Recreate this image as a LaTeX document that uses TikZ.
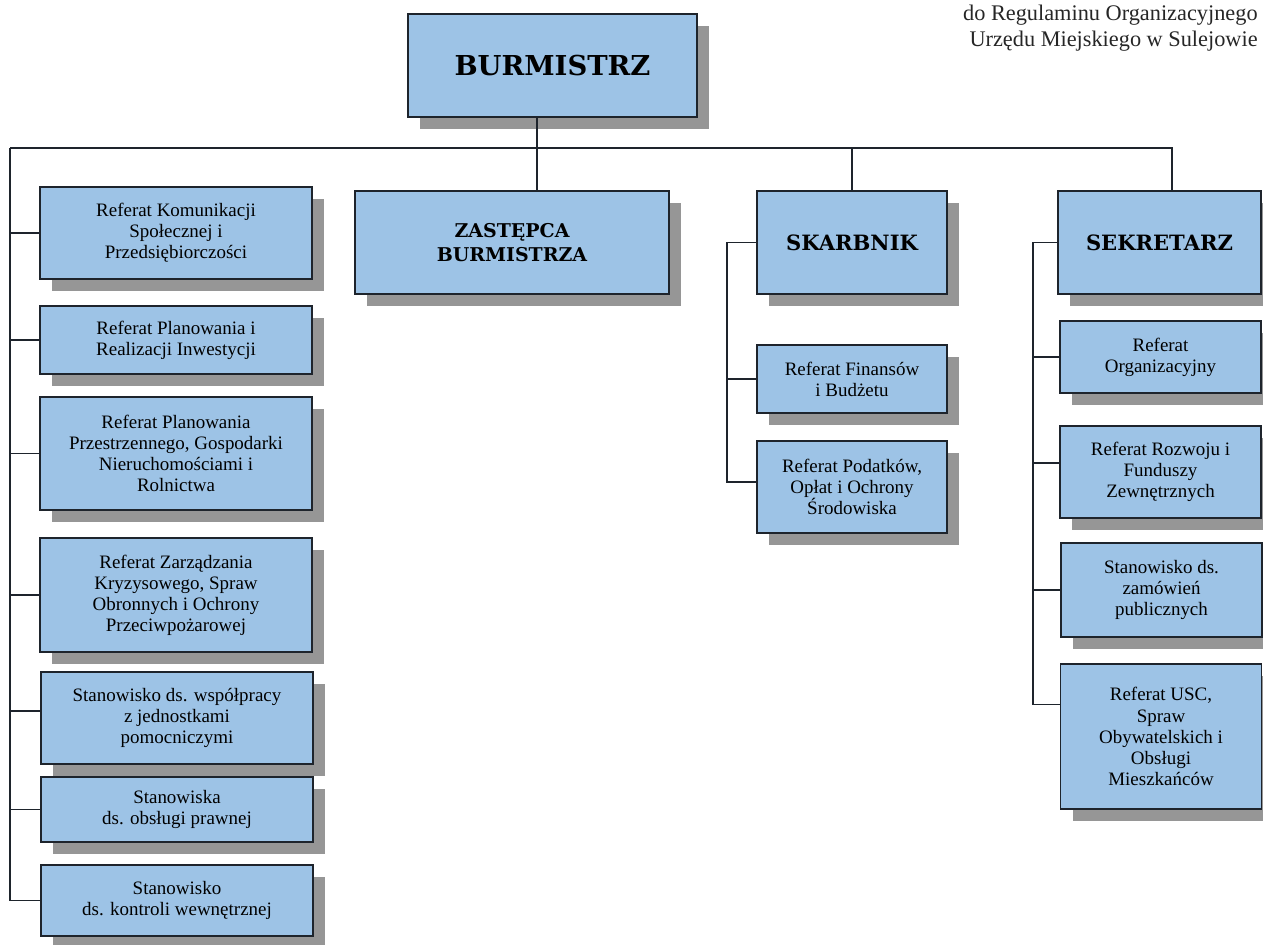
\documentclass[tikz,border=0pt]{standalone}
\usepackage{fontspec}
\setmainfont{Liberation Serif}
\newfontfamily\slab{DejaVu Serif}
\usetikzlibrary{shadows,calc}
\definecolor{boxblue}{RGB}{157,195,230}
\definecolor{shade}{RGB}{150,150,150}
\definecolor{edge}{RGB}{30,36,44}
\begin{document}
\begin{tikzpicture}[x=0.02cm,y=-0.02cm,
  box/.style={draw=edge, line width=1.1pt, fill=boxblue, align=center, inner sep=2pt,
    font=\fontsize{10.8}{12}\selectfont,
    drop shadow={shadow xshift=0.24cm, shadow yshift=-0.24cm, fill=shade, opacity=1}},
  head/.style={box, font=\slab\bfseries\fontsize{12}{14}\selectfont},
  sz/.style 2 args={minimum width=#1*0.02cm, minimum height=#2*0.02cm},
  link/.style={draw=edge, line width=0.8pt},
  note/.style={anchor=base east, inner sep=0pt, font=\fontsize{12.7}{14.7}\selectfont, text=black!85}]
\useasboundingbox (0,0) rectangle (1263,944);

% header note
\node[note] (n1) at (1258,20) {do Regulaminu Organizacyjnego};
\node[note] (n2) at (1258,46) {Urzędu Miejskiego w Sulejowie};

% top
\node[box, sz={289}{103}, font=\slab\bfseries\fontsize{15.6}{17}\selectfont] (bur) at (552.5,65.5) {BURMISTRZ};

% second level
\node[head, sz={314}{103}, font=\slab\bfseries\fontsize{10.8}{14}\selectfont] (zas) at (512,242.5) {ZASTĘPCA\\BURMISTRZA};
\node[head, sz={190}{103}] (ska) at (852,242.5) {SKARBNIK};
\node[head, sz={203}{103}] (sek) at (1159.5,242.5) {SEKRETARZ};

% left column
\node[box, sz={272}{92}]  (l1) at (176,233)   {Referat Komunikacji\\Społecznej i\\Przedsiębiorczości};
\node[box, sz={272}{68}]  (l2) at (176,340)   {Referat Planowania i\\Realizacji Inwestycji};
\node[box, sz={272}{113}] (l3) at (176,453.5) {Referat Planowania\\Przestrzennego, Gospodarki\\Nieruchomościami i\\Rolnictwa};
\node[box, sz={272}{114}] (l4) at (176,595)   {Referat Zarządzania\\Kryzysowego, Spraw\\Obronnych i Ochrony\\Przeciwpożarowej};
\node[box, sz={272}{92}]  (l5) at (177,718)   {Stanowisko ds. współpracy\\z jednostkami\\pomocniczymi};
\node[box, sz={272}{65}]  (l6) at (177,809.5) {Stanowiska\\ds. obsługi prawnej};
\node[box, sz={272}{71}]  (l7) at (177,900.5) {Stanowisko\\ds. kontroli wewnętrznej};

% skarbnik column
\node[box, sz={190}{68}] (f1) at (852,379) {Referat Finansów\\i Budżetu};
\node[box, sz={190}{92}] (f2) at (852,487) {Referat Podatków,\\Opłat i Ochrony\\Środowiska};

% sekretarz column
\node[box, sz={201}{72}]  (r1) at (1160.5,357)   {Referat\\Organizacyjny};
\node[box, sz={201}{92}]  (r2) at (1160.5,472)   {Referat Rozwoju i\\Funduszy\\Zewnętrznych};
\node[box, sz={201}{94}]  (r3) at (1161.5,590)   {Stanowisko ds.\\zamówień\\publicznych};
\node[box, sz={201}{145}] (r4) at (1161,736.5)   {Referat USC,\\Spraw\\Obywatelskich i\\Obsługi\\Mieszkańców};

% connectors
\coordinate (bl) at (10,148);
\coordinate (br) at (1172,148);
\coordinate (jz) at (537,148);
\coordinate (st) at (727,242.5);
\coordinate (rt) at (1033,242.5);

\draw[link] (jz |- bur.south) -- (jz |- zas.north);
\draw[link] (bl) -- (br) -- (br |- sek.north);
\draw[link] (ska.north) -- (ska.north |- bl);

\draw[link] (bl) |- (l7.west);
\foreach \n in {l1,l2,l3,l4,l6}
  \draw[link] (bl |- \n.west) -- (\n.west);
\draw[link] ($(l5.west)+(0,-7)$) -- ($(bl |- l5.west)+(0,-7)$);

\draw[link] (ska.west) -- (st) |- ($(f2.west)+(0,-5)$);
\draw[link] (st |- f1.west) -- (f1.west);

\draw[link] (sek.west) -- (rt) |- ($(r4.west)+(0,-32)$);
\draw[link] (rt |- r1.west) -- (r1.west);
\draw[link] ($(rt |- r2.west)+(0,-9)$) -- ($(r2.west)+(0,-9)$);
\draw[link] (rt |- r3.west) -- (r3.west);
\end{tikzpicture}
\end{document}
